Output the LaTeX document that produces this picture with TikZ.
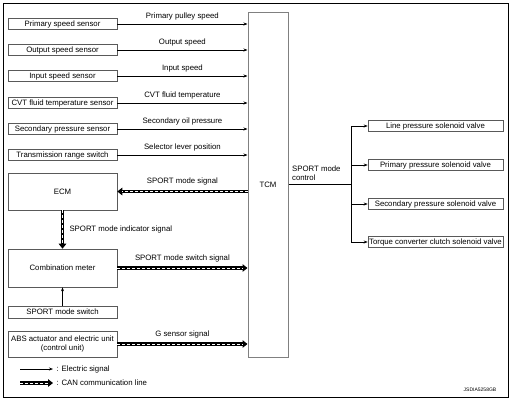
\documentclass[tikz,border=0pt]{standalone}
\usepackage{fontspec}
\setmainfont{Liberation Sans}
\usetikzlibrary{positioning}
\usetikzlibrary{arrows.meta, positioning}
\tikzstyle{unit} = [draw=black!65, line width=0.6pt, minimum width=109pt, minimum height=11pt, inner sep=0pt]
\tikzstyle{valve} = [draw=black!65, line width=0.6pt, minimum width=135pt, minimum height=11.5pt, inner sep=0pt]
\tikzstyle{arrow} = [line width=0.6pt, -{Stealth[length=4pt, width=3pt]}]
\tikzstyle{can} = [line width=3.4pt, -{Triangle[length=5pt, width=7.5pt]}, postaction={draw=white, line width=1pt, dash pattern=on 3pt off 2pt, -, shorten >=5pt}]

\begin{document}
\begin{tikzpicture}[x=1pt, y=-1pt, font=\fontsize{7.8}{9.2}\selectfont]
    \useasboundingbox (0,0) rectangle (514,400);
    \draw[line width=0.9pt] (3,3) rectangle (508,397);

    % Nodes (inputs on the left)
    \node[unit] (pss) at (62.5,24) {Primary speed sensor};
    \node[unit] (oss) at (62.5,50) {Output speed sensor};
    \node[unit] (iss) at (62.5,76) {Input speed sensor};
    \node[unit] (fts) at (62.5,103) {CVT fluid temperature sensor};
    \node[unit] (sps) at (62.5,129) {Secondary pressure sensor};
    \node[unit] (trs) at (62.5,155) {Transmission range switch};
    \node[unit, minimum height=37pt] (ecm) at (62.5,191.5) {ECM};
    \node[unit, minimum height=38pt] (meter) at (62.5,268) {Combination meter};
    \node[unit, minimum height=12pt] (sw) at (62.5,312) {SPORT mode switch};
    \node[unit, minimum height=26pt, align=center] (abs) at (62.5,344) {ABS actuator and electric unit\\(control unit)};

    % TCM
    \node[draw=black!50, line width=1pt, minimum width=40pt, minimum height=345pt, inner sep=0pt] (tcm) at (268,184.5) {TCM};

    % Nodes (valves on the right)
    \node[valve] (lpv) at (435.5,126) {Line pressure solenoid valve};
    \node[valve] (ppv) at (435.5,165) {Primary pressure solenoid valve};
    \node[valve] (spv) at (435.5,204) {Secondary pressure solenoid valve};
    \node[valve] (tccv) at (435.5,242) {Torque converter clutch solenoid valve};
    \coordinate (fork) at (351,184.5);

    % Edges (electric signals)
    \draw[arrow] (pss.east) -- node[above] {Primary pulley speed} (pss.east -| tcm.west);
    \draw[arrow] (oss.east) -- node[above] {Output speed} (oss.east -| tcm.west);
    \draw[arrow] (iss.east) -- node[above] {Input speed} (iss.east -| tcm.west);
    \draw[arrow] (fts.east) -- node[above] {CVT fluid temperature} (fts.east -| tcm.west);
    \draw[arrow] (sps.east) -- node[above] {Secondary oil pressure} (sps.east -| tcm.west);
    \draw[arrow] (trs.east) -- node[above] {Selector lever position} (trs.east -| tcm.west);
    \draw[arrow] (sw.north) -- (meter.south);

    % Edges (CAN lines)
    \draw[can] (ecm.east -| tcm.west) -- node[above=1pt] {SPORT mode signal} (ecm.east);
    \draw[can] (ecm.south) -- node[right=2pt] {SPORT mode indicator signal} (meter.north);
    \draw[can] (meter.east) -- node[above=1pt] {SPORT mode switch signal} (meter.east -| tcm.west);
    \draw[can] (abs.east) -- node[above=1pt] {G sensor signal} (abs.east -| tcm.west);

    % Edges (TCM to valves)
    \draw[line width=0.6pt] (tcm.east) -- node[pos=0, above right, align=left] {SPORT mode\\control} (fork);
    \draw[line width=0.6pt] (fork |- lpv.west) -- (fork |- tccv.west);
    \foreach \v in {lpv, ppv, spv, tccv}
        \draw[arrow] (fork |- \v.west) -- (\v.west);

    % Legend
    \coordinate (ea) at (20,369);
    \coordinate (ca) at (20,383);
    \node[anchor=west] (el) at (53,369) {: Electric signal};
    \node[anchor=west] (cl) at (53,383) {: CAN communication line};
    \draw[arrow] (ea) -- (el.west);
    \draw[can] (ca) -- (cl.west);

    \node[font=\fontsize{5}{6}\selectfont] (code) at (480,390) {JSDIA5258GB};
\end{tikzpicture}
\end{document}
